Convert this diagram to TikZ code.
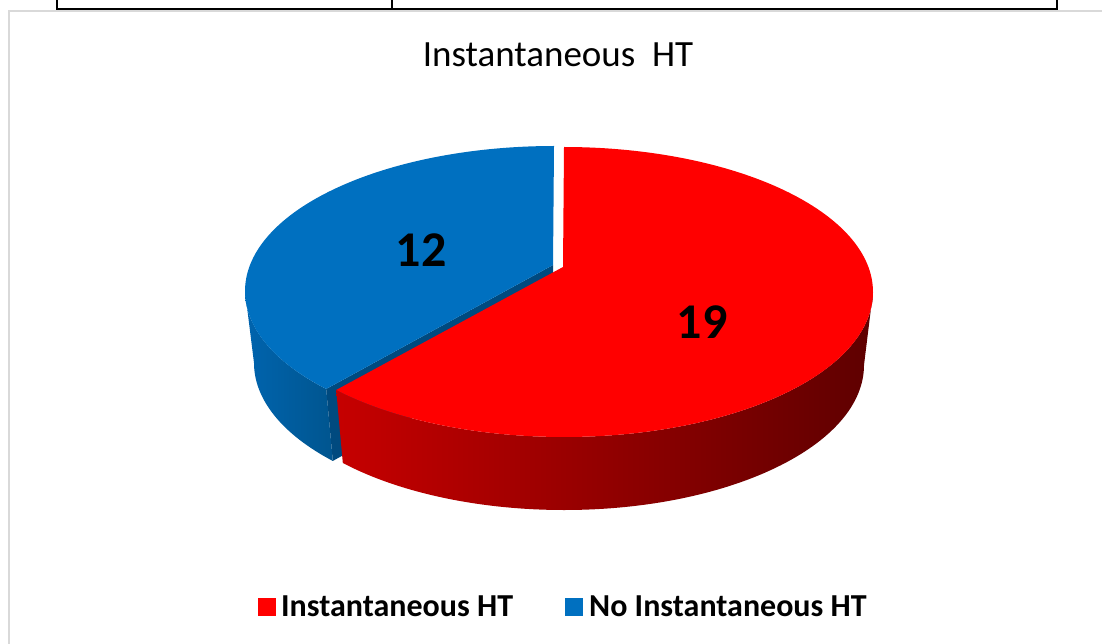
\documentclass[tikz,border=0pt]{standalone}
\usepackage{fontspec}
\setmainfont{Carlito}
\definecolor{redtop}{HTML}{FF0000}
\definecolor{redsideL}{HTML}{C60000}
\definecolor{redsideM}{HTML}{840000}
\definecolor{redsideR}{HTML}{5E0000}
\definecolor{bluetop}{HTML}{0070C0}
\definecolor{bluesideL}{HTML}{0064AE}
\definecolor{bluesideR}{HTML}{00558F}
\definecolor{blueface}{HTML}{004A7F}
\definecolor{chartborder}{HTML}{D9D9D9}
\tikzset{
  tableline/.style={black, line width=2pt},
  frameline/.style={chartborder, line width=1.5pt},
  titletext/.style={font=\fontsize{37}{44}\selectfont, inner sep=0pt},
  valuetext/.style={font=\fontsize{50}{60}\selectfont\bfseries, inner sep=0pt},
  legendtext/.style={font=\fontsize{32}{38}\selectfont\bfseries, inner sep=0pt},
  legendbox/.style={minimum size=18pt, inner sep=0pt, draw=none},
}
\begin{document}
\begin{tikzpicture}[x=1pt,y=1pt]
\useasboundingbox (0,0) rectangle (1102,-644);
\fill[white] (0,0) rectangle (1102,-644);
% table remnant at top
\draw[tableline] (56,-9) -- (1058,-9);
\draw[tableline] (57,0) -- (57,-9);
\draw[tableline] (392,0) -- (392,-9);
\draw[tableline] (1057,0) -- (1057,-9);
% chart area border
\draw[frameline] (9,-644) -- (9,-11) -- (1102,-11);
% title
\node[titletext, anchor=base] (title) at (558,-66.7) {Instantaneous\ \ HT};
% ---------- blue slice (No Instantaneous HT) ----------
% outer side
\shade[left color=bluesideL, right color=bluesideR]
  ([shift={(554,-291)}]180:309 and 145) arc[start angle=180, end angle=222.5, x radius=309, y radius=145]
  -- ([shift={(554,-363)}]222.5:300 and 145) arc[start angle=222.5, end angle=180, x radius=300, y radius=145]
  -- cycle;
% radial cut face
\fill[blueface] (553,-265) -- ([shift={(554,-291)}]222.5:309 and 145)
  -- ([shift={(554,-363)}]222.5:300 and 145) -- (553,-338) -- cycle;
% top face
\fill[bluetop] (553,-265) -- ([shift={(554,-291)}]222.5:309 and 145)
  arc[start angle=222.5, end angle=90, x radius=309, y radius=145] -- cycle;
% ---------- red slice (Instantaneous HT) ----------
% outer side
\shade[left color=redsideL, middle color=redsideM, right color=redsideR]
  ([shift={(564,-292)}]-137.5:309 and 145) arc[start angle=-137.5, end angle=0, x radius=309, y radius=145]
  -- ([shift={(564,-365)}]0:300 and 145) arc[start angle=0, end angle=-137.5, x radius=300, y radius=145]
  -- cycle;
% top face
\fill[redtop] (563,-267) -- ([shift={(564,-292)}]-137.5:309 and 145)
  arc[start angle=-137.5, end angle=90, x radius=309, y radius=145] -- cycle;
% data labels
\node[valuetext, anchor=base] (lab12) at (421,-266.7) {12};
\node[valuetext, anchor=base] (lab19) at (702,-338) {19};
% legend
\node[legendbox, fill=redtop] (legred) at (267,-607) {};
\node[legendtext, anchor=base west] (legredtext) at (281,-616) {Instantaneous HT};
\node[legendbox, fill=bluetop] (legblue) at (574,-607) {};
\node[legendtext, anchor=base west] (legbluetext) at (589,-616) {No Instantaneous HT};
\end{tikzpicture}
\end{document}
